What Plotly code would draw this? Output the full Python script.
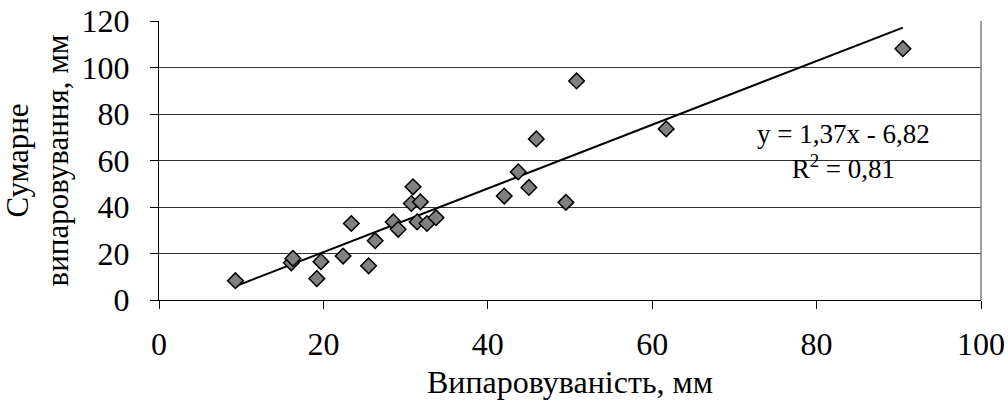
import numpy as np
import plotly.graph_objects as go

# Data
evaporability = [9.3, 16.1, 16.3, 19.2, 19.7, 22.4, 23.4, 25.5, 26.3, 28.5, 29.1,
                 30.7, 30.9, 31.4, 31.8, 32.6, 33.7, 42.0, 43.7, 45.0, 45.9,
                 49.5, 50.8, 61.7, 90.5]
total_evap = [8.3, 16.0, 17.9, 9.2, 16.5, 18.9, 32.9, 14.7, 25.5, 33.6, 30.4,
              41.5, 48.7, 33.6, 42.2, 32.9, 35.4, 44.7, 55.1, 48.4, 69.3,
              42.0, 94.2, 73.6, 108.1]
slope = 1.37
intercept = -6.82
r2 = 0.81
x_ticks = [0, 20, 40, 60, 80, 100]
y_ticks = [0, 20, 40, 60, 80, 100, 120]

FONT = "Liberation Serif, Times New Roman, serif"

x_line = np.array([min(evaporability), max(evaporability)])
y_line = slope * x_line + intercept

fig = go.Figure()
fig.add_trace(go.Scatter(
    x=x_line, y=y_line, mode="lines",
    line=dict(color="black", width=2), showlegend=False, hoverinfo="skip"))
fig.add_trace(go.Scatter(
    x=evaporability, y=total_evap, mode="markers",
    marker=dict(symbol="diamond", size=12, color="#808080",
                line=dict(color="black", width=1.5)),
    showlegend=False))

eq_text = f"y = {slope:.2f}x - {abs(intercept):.2f}".replace(".", ",")
r2_text = f"R<sup>2</sup> = {r2:.2f}".replace(".", ",")
fig.add_annotation(x=83.3, y=64, xref="x", yref="y", text=eq_text + "<br>" + r2_text,
                   showarrow=False, font=dict(family=FONT, size=27, color="black"),
                   align="center")

fig.update_layout(
    width=1008, height=407,
    margin=dict(l=159, r=27, t=21, b=107),
    paper_bgcolor="white", plot_bgcolor="white",
    font=dict(family=FONT, size=32, color="black"),
    shapes=[dict(type="line", xref="paper", yref="paper", x0=1, x1=1, y0=0, y1=1,
                 line=dict(color="#808080", width=1.5))],
)
fig.update_xaxes(
    range=[0, 100], tickvals=x_ticks, ticks="outside", ticklen=8, tickwidth=1.3,
    tickcolor="black", showline=True, linecolor="black", linewidth=1.3,
    showgrid=False, zeroline=False, ticklabelstandoff=7, automargin=False,
    ticklabeloverflow="allow",
    title=dict(text="Випаровуваність, мм", standoff=10,
               font=dict(family=FONT, size=32)))
fig.update_yaxes(
    range=[0, 120], tickvals=y_ticks, ticks="outside", ticklen=8, tickwidth=1.3,
    tickcolor="black", showline=True, linecolor="black", linewidth=1.3,
    showgrid=True, gridcolor="#333333", gridwidth=1.3, zeroline=False,
    ticklabelstandoff=14, automargin=False, ticklabeloverflow="allow",
    title=dict(text="Сумарне<br>випаровування, мм", standoff=7,
               font=dict(family=FONT, size=31)))

# remove the browser's default 8px body margin so the figure fills the window
fig.write_html("out.html", config={"displayModeBar": False},
               post_script="document.body.style.margin='0';")
